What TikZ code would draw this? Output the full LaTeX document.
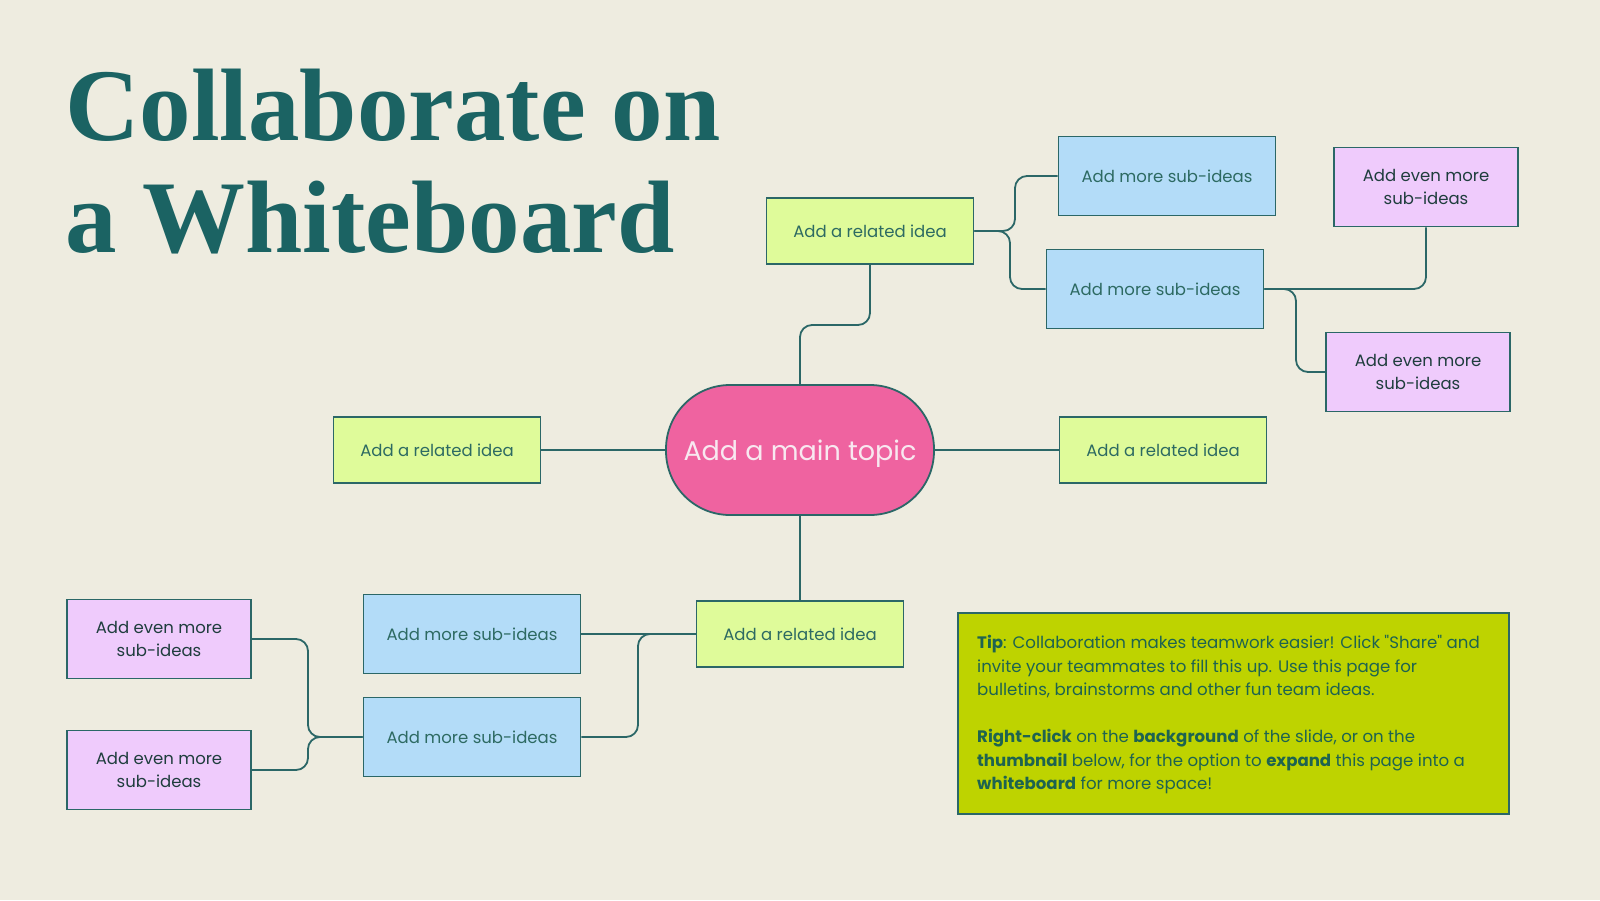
\documentclass[tikz,border=0pt]{standalone}
\usepackage{fontspec}
\setmainfont{Poppins}[Ligatures=TeXOff]
\newfontfamily\titlefont{Liberation Serif}
\definecolor{bg}{HTML}{EEECE0}
\definecolor{titlecol}{HTML}{1B6363}
\definecolor{edge}{HTML}{2B6767}
\definecolor{pinkfill}{HTML}{EF63A0}
\definecolor{limefill}{HTML}{DFFB9A}
\definecolor{bluefill}{HTML}{B3DCF8}
\definecolor{purplefill}{HTML}{EFCBFC}
\definecolor{tipfill}{HTML}{BED300}
\definecolor{boxtext}{HTML}{2D6A62}
\definecolor{darktext}{HTML}{1F3D3D}
\definecolor{maintext}{HTML}{F8E8F0}
\definecolor{tiptext}{HTML}{1E6350}
\begin{document}
\begin{tikzpicture}[x=1pt,y=-1pt,
  box/.style={draw=edge, line width=1.8pt, inner sep=0pt, align=center,
    font=\fontsize{16.5}{23.5}\selectfont},
  related/.style={box, fill=limefill, text=boxtext, minimum width=207pt, minimum height=66pt},
  subidea/.style={box, fill=bluefill, text=boxtext, minimum width=217pt, minimum height=79pt},
  evenmore/.style={box, fill=purplefill, text=darktext, minimum width=184pt, minimum height=79pt},
  conn/.style={draw=edge, line width=1.8pt, rounded corners=12pt},
  titletext/.style={anchor=base west, inner sep=0pt, text=titlecol,
    font=\titlefont\bfseries\fontsize{103}{103}\selectfont}]
\fill[bg] (0,0) rectangle (1600,900);
\useasboundingbox (0,0) rectangle (1600,900);

\node[titletext] (title1) at (65,140) {Collaborate on};
\node[titletext] (title2) at (65,252) {a Whiteboard};

% main topic
\node[draw=edge, line width=1.8pt, fill=pinkfill, rounded corners=64pt,
  minimum width=268pt, minimum height=130pt, inner sep=0pt, text=maintext,
  text height=24pt, text depth=4pt,
  font=\fontsize{27}{32}\selectfont] (main) at (800,450) {Add a main topic};

% related ideas
\node[related] (rt) at (870,231) {Add a related idea};
\node[related] (rl) at (437,450) {Add a related idea};
\node[related] (rr) at (1163,450) {Add a related idea};
\node[related] (rb) at (800,634) {Add a related idea};

% sub-ideas
\node[subidea] (t1) at (1167,176) {Add more sub-ideas};
\node[subidea] (t2) at (1155,289) {Add more sub-ideas};
\node[subidea] (b1) at (472,634) {Add more sub-ideas};
\node[subidea] (b2) at (472,737) {Add more sub-ideas};

% even more
\node[evenmore] (e1) at (1426,187) {Add even more\\sub-ideas};
\node[evenmore] (e2) at (1418,372) {Add even more\\sub-ideas};
\node[evenmore] (e3) at (159,639) {Add even more\\sub-ideas};
\node[evenmore] (e4) at (159,770) {Add even more\\sub-ideas};

% connectors
\draw[conn] (main.north) -- (800,325) -| (rt.south);
\draw[conn] (main.west) -- (rl.east);
\draw[conn] (main.east) -- (rr.west);
\draw[conn] (main.south) -- (rb.north);

\draw[conn] (rt.east) -- (1015,231) |- (t1.west);
\draw[conn] (rt.east) -- (1010,231) |- (t2.west);
\draw[conn] (t2.east) -| (e1.south);
\draw[conn] (t2.east) -- (1296,289) |- (e2.west);

\draw[conn] (rb.west) -- (b1.east);
\draw[conn] (rb.west) -- (638,634) |- (b2.east);
\draw[conn] (b2.west) -- (308,737) |- (e3.east);
\draw[conn] (b2.west) -- (308,737) |- (e4.east);

% tip box
\node[draw=edge, line width=1.8pt, fill=tipfill, minimum width=551pt,
  minimum height=201pt, inner sep=0pt] (tip) at (1233.5,713.5) {};
\node[anchor=north west, inner sep=0pt, align=left, text=tiptext,
  font=\fontsize{16.6}{23.5}\selectfont] (tiptxt) at (977,635)
  {\textbf{Tip}: Collaboration makes teamwork easier! Click "Share" and\\
   invite your teammates to fill this up. Use this page for\\
   bulletins, brainstorms and other fun team ideas.\\[23.5pt]
   \textbf{Right-click} on the \textbf{background} of the slide, or on the\\
   \textbf{thumbnail} below, for the option to \textbf{expand} this page into a\\
   \textbf{whiteboard} for more space!};
\end{tikzpicture}
\end{document}
